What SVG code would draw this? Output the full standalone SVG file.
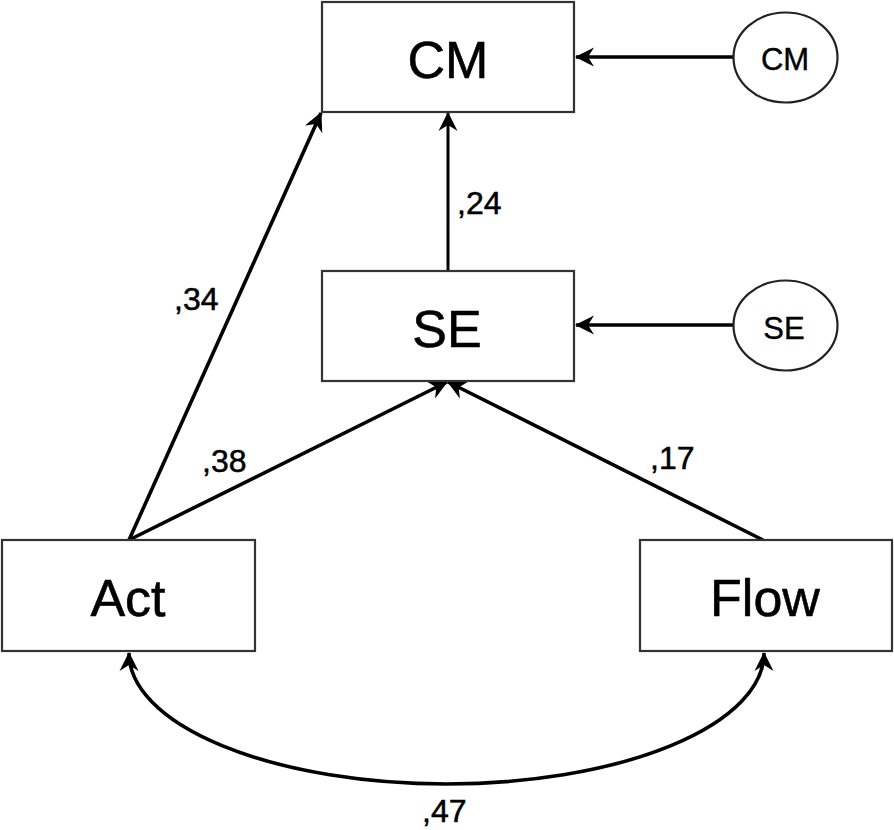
<svg xmlns="http://www.w3.org/2000/svg" width="894" height="830" viewBox="0 0 894 830">
<style>
.box{fill:#fff;stroke:#333;stroke-width:2.2}
.ell{fill:#fff;stroke:#222;stroke-width:2.2}
.big{font-family:"Liberation Sans",Arial,sans-serif;font-size:52px;fill:#000;stroke:#000;stroke-width:0.6;text-anchor:middle}
.sm{font-family:"Liberation Sans",Arial,sans-serif;font-size:31px;fill:#000;stroke:#000;stroke-width:0.4;text-anchor:middle}
.lbl{font-family:"Liberation Sans",Arial,sans-serif;font-size:32px;fill:#000;stroke:#000;stroke-width:0.5}
.c{fill:none;stroke:#000;stroke-width:3.6;marker-end:url(#ah)}
</style>
<defs>
<marker id="ah" markerUnits="userSpaceOnUse" markerWidth="40" markerHeight="40" refX="20" refY="20" orient="auto-start-reverse" overflow="visible">
<path d="M21,20 L2,10.5 L8,20 L2,29.5 Z" fill="#000"/>
</marker>
</defs>
<rect width="894" height="830" fill="#fff"/>
<g id="connectors">
<line class="c" x1="733" y1="57" x2="576" y2="57"/>
<line class="c" x1="733" y1="325" x2="576" y2="325"/>
<line class="c" x1="448" y1="271" x2="448" y2="113" style="stroke-width:3"/>
<line class="c" x1="129" y1="540" x2="321" y2="113"/>
<line class="c" x1="129" y1="540" x2="447" y2="382"/>
<line class="c" x1="763" y1="540" x2="448" y2="382"/>
<path d="M129,653 A317.5,131 0 0 0 764,653" style="fill:none;stroke:#000;stroke-width:3.6;marker-start:url(#ah);marker-end:url(#ah)"/>
</g>
<g id="node-cm">
<rect class="box" x="322" y="2" width="252" height="110"/>
<text class="big" x="448" y="78">CM</text>
</g>
<g id="node-se">
<rect class="box" x="322" y="271" width="252" height="110"/>
<text class="big" x="447" y="347">SE</text>
</g>
<g id="node-act">
<rect class="box" x="2" y="540" width="253" height="111"/>
<text class="big" x="128" y="616">Act</text>
</g>
<g id="node-flow">
<rect class="box" x="640" y="540" width="252" height="111"/>
<text class="big" x="765" y="616">Flow</text>
</g>
<g id="err-cm">
<ellipse class="ell" cx="785.5" cy="57.5" rx="52" ry="45"/>
<text class="sm" x="785" y="70">CM</text>
</g>
<g id="err-se">
<ellipse class="ell" cx="785.5" cy="325.5" rx="52" ry="45"/>
<text class="sm" x="784" y="339">SE</text>
</g>
<g id="labels">
<text class="lbl" x="174" y="310">,34</text>
<text class="lbl" x="457" y="214">,24</text>
<text class="lbl" x="202" y="472">,38</text>
<text class="lbl" x="650" y="469">,17</text>
<text class="lbl" x="422" y="822">,47</text>
</g>
</svg>
